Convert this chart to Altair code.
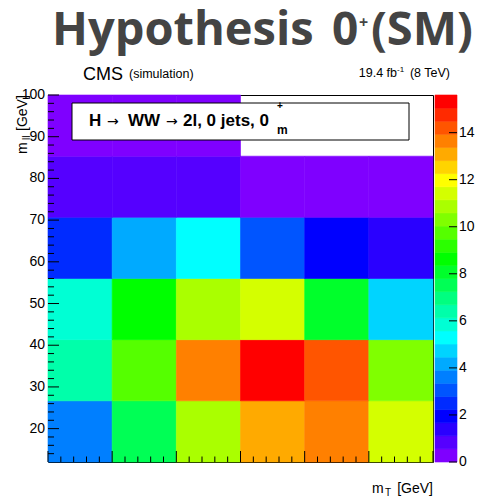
import altair as alt
import pandas as pd
import colorsys

# ---- data ----
x_edges = [60, 70, 80, 90, 100, 110, 120]
y_edges = [12, 26.67, 41.33, 56, 70.67, 85.33, 100]
# rows from bottom (m_ll 12-26.7) to top (85.3-100); columns m_T 60-70 ... 110-120
values = [
    [3.6, 7.5, 10.86, 13.1, 13.6, 11.4],
    [6.4, 9.75, 13.6, 15.3, 14.2, 10.3],
    [5.85, 8.6, 10.86, 11.4, 8.0, 4.9],
    [2.75, 4.18, 5.29, 3.1, 1.95, 1.39],
    [0.84, 0.84, 0.84, 0.28, 0.28, 0.28],
    [0.28, 0.28, 0.28, 0.0, 0.0, 0.0],
]
z_max = 15.6
n_levels = 28
x_major = [60, 70, 80, 90, 100, 110, 120]
x_minor = [v for v in range(62, 120, 2) if v % 10 != 0]
y_major = [20, 30, 40, 50, 60, 70, 80, 90, 100]
y_minor = [v for v in range(14, 100, 2) if v % 10 != 0]
cbar_ticks = [0, 2, 4, 6, 8, 10, 12, 14]

W, H = 385, 367
FONT = "Liberation Sans"

# palette: violet -> red
palette = []
for k in range(n_levels):
    h = (270 - k * 270 / (n_levels - 1)) / 360.0
    r, g, b = colorsys.hls_to_rgb(h, 0.5, 1.0)
    palette.append("#%02x%02x%02x" % (round(r * 255), round(g * 255), round(b * 255)))
bw = z_max / n_levels
thresholds = [round(k * bw, 6) for k in range(1, n_levels)]
cscale = alt.Scale(type="threshold", domain=thresholds, range=palette)

rows = []
for j in range(6):
    for i in range(6):
        rows.append({"x": x_edges[i], "x2": x_edges[i + 1],
                     "y": y_edges[j], "y2": y_edges[j + 1], "v": values[j][i]})
cells = pd.DataFrame(rows)

xs = alt.Scale(domain=[60, 120], nice=False, zero=False)
ys = alt.Scale(domain=[12, 100], nice=False, zero=False)
cs = alt.Scale(domain=[0, z_max], nice=False, zero=False)

heat = alt.Chart(cells).transform_filter("datum.v > 0").mark_rect(strokeWidth=0.6).encode(
    x=alt.X("x:Q", scale=xs, axis=alt.Axis(values=x_major, format="d", ticks=False, grid=False,
                                            title=None, labelFont=FONT, labelFontSize=14,
                                            labelColor="black", labelPadding=3, labelFlush=False,
                                            domainColor="black")),
    x2="x2:Q",
    y=alt.Y("y:Q", scale=ys, axis=None),
    y2="y2:Q",
    color=alt.Color("v:Q", scale=cscale, legend=None),
    stroke=alt.Stroke("v:Q", scale=cscale, legend=None),
)

def tick_df(vals):
    return pd.DataFrame({"t": vals})

xt_major = alt.Chart(tick_df(x_major)).mark_rule(color="black").encode(
    x=alt.X("t:Q", scale=xs, axis=None), y=alt.value(H), y2=alt.value(H - 11))
xt_minor = alt.Chart(tick_df(x_minor)).mark_rule(color="black").encode(
    x=alt.X("t:Q", scale=xs, axis=None), y=alt.value(H), y2=alt.value(H - 5.5))
yt_major = alt.Chart(tick_df(y_major)).mark_rule(color="black").encode(
    y=alt.Y("t:Q", scale=ys, axis=None), x=alt.value(0), x2=alt.value(11))
yt_minor = alt.Chart(tick_df(y_minor)).mark_rule(color="black").encode(
    y=alt.Y("t:Q", scale=ys, axis=None), x=alt.value(0), x2=alt.value(6))
yt_labels = alt.Chart(tick_df(y_major)).mark_text(align="right", baseline="middle", font=FONT,
                                                  fontSize=14, color="black").encode(
    y=alt.Y("t:Q", scale=ys, axis=None), x=alt.value(-3), text=alt.Text("t:Q", format="d"))

def txt(s, x, y, size, align="left", weight="normal", font=FONT, color="black", angle=0):
    kw = dict(align=align, baseline="alphabetic", fontSize=size, fontWeight=weight,
              font=font, color=color)
    if angle:
        kw["angle"] = angle
    return alt.Chart(pd.DataFrame({"s": [s]})).mark_text(**kw).encode(
        text="s:N", x=alt.value(x), y=alt.value(y))

box = alt.Chart(pd.DataFrame({"a": [0]})).mark_rect(fill="white", stroke="black", strokeWidth=1).encode(
    x=alt.value(24), x2=alt.value(361), y=alt.value(8), y2=alt.value(45))

TC = "#444444"
texts = [
    # title
    txt("Hypothesis", 4, -50, 47, weight="bold", font="Open Sans", color=TC),
    txt("0", 284, -50, 46, weight="bold", font="Open Sans", color=TC),
    txt("+", 311, -67, 16, weight="bold", font="Open Sans", color=TC),
    txt("(SM)", 425, -50, 47, align="right", weight="bold", font="Open Sans", color=TC),
    # CMS labels
    txt("CMS", 35, -15, 18),
    txt("(simulation)", 81, -17, 12.5),
    txt("19.4 fb", 349, -18, 12.5, align="right"),
    txt("-1", 349, -23, 8),
    txt("(8 TeV)", 402, -18, 12.5, align="right"),
    # legend text
    txt("H", 41, 31, 17, weight="bold"),
    txt("\u2192", 59, 31, 14, font="DejaVu Sans"),
    txt("WW", 80, 31, 17, weight="bold"),
    txt("\u2192", 118, 31, 14, font="DejaVu Sans"),
    txt("2l, 0 jets, 0", 135, 31, 17, weight="bold"),
    txt("+", 229, 14, 10, weight="bold"),
    txt("m", 229, 39, 12, weight="bold"),
    # axis titles
    txt("m", 324, 398, 14),
    txt("T", 337, 401, 10),
    txt("[GeV]", 385, 398, 14, align="right"),
    txt("m", -21, 59, 14, angle=270),
    txt("ll", -18, 45, 10, angle=270),
    txt("[GeV]", -21, 36, 14, angle=270),
]

main = alt.layer(heat, box, xt_major, xt_minor, yt_major, yt_minor, yt_labels, *texts)

# colour bar
cb = pd.DataFrame({"lo": [k * bw for k in range(n_levels)],
                   "hi": [(k + 1) * bw for k in range(n_levels)],
                   "mid": [(k + 0.5) * bw for k in range(n_levels)]})
cbar = alt.Chart(cb).mark_rect(strokeWidth=0.6).encode(
    y=alt.Y("lo:Q", scale=cs, axis=None), y2="hi:Q",
    x=alt.value(387), x2=alt.value(409),
    color=alt.Color("mid:Q", scale=cscale, legend=None),
    stroke=alt.Stroke("mid:Q", scale=cscale, legend=None),
)
cbt = alt.Chart(tick_df(cbar_ticks)).mark_rule(color="black").encode(
    y=alt.Y("t:Q", scale=cs, axis=None), x=alt.value(401), x2=alt.value(409))
cbl = alt.Chart(tick_df(cbar_ticks)).mark_text(align="left", baseline="middle", font=FONT,
                                               fontSize=14, color="black").encode(
    y=alt.Y("t:Q", scale=cs, axis=None), x=alt.value(411), text=alt.Text("t:Q", format="d"))
cbar_layer = alt.layer(cbar, cbt, cbl)

chart = alt.layer(main, cbar_layer).resolve_scale(y="independent").properties(
    width=W, height=H,
    padding={"left": 48, "top": 95, "right": 44, "bottom": 36},
    autosize=alt.AutoSizeParams(type="none"),
    background="white",
).configure_view(stroke="black", strokeWidth=1)

chart.save("out.html", embed_options={"renderer": "svg", "actions": False})
